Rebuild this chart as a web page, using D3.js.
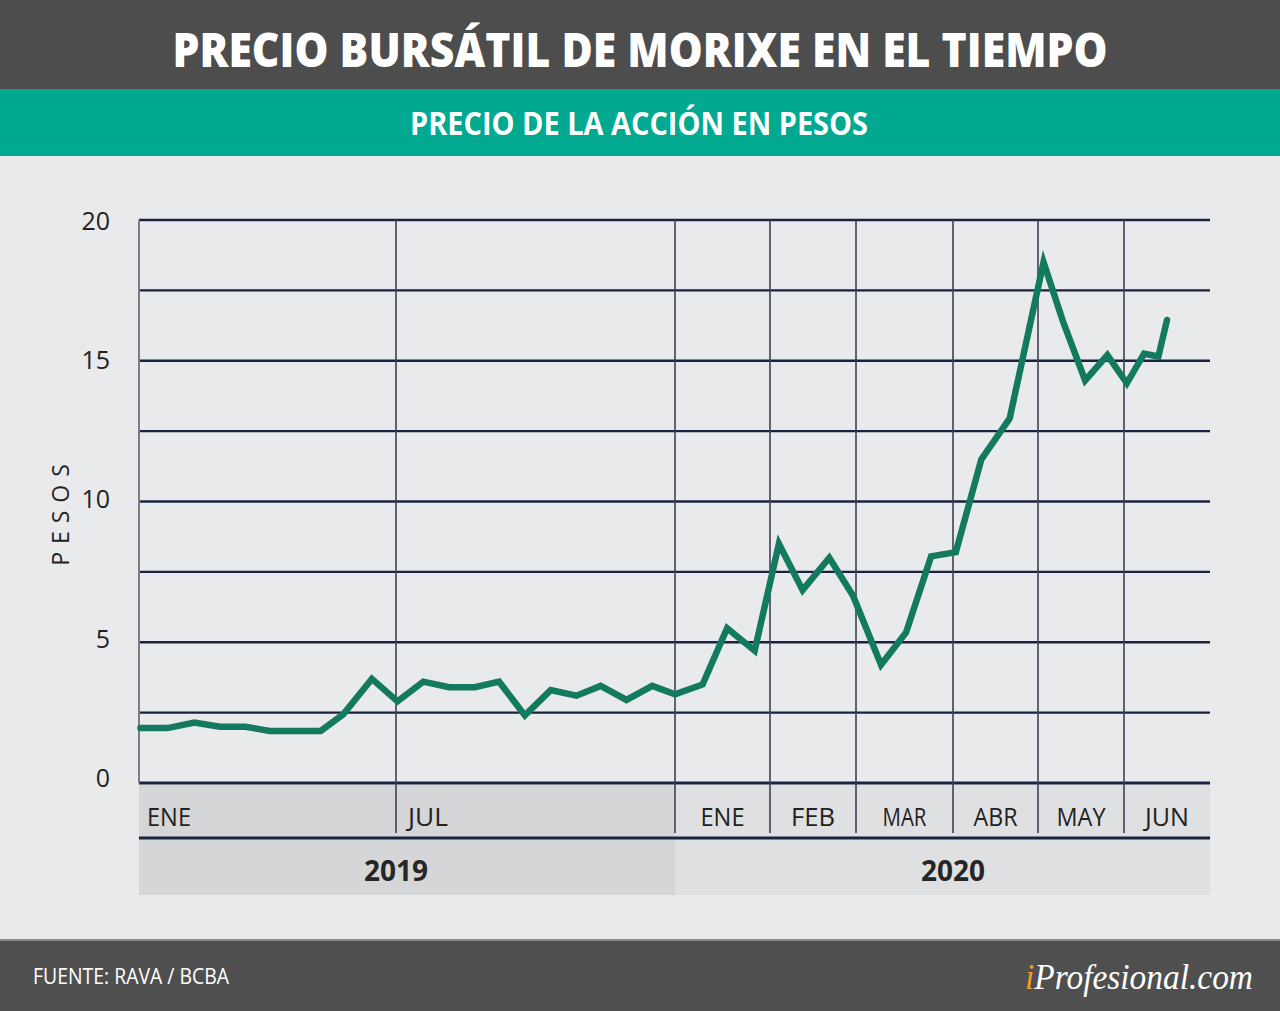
<!DOCTYPE html>
<html>
<head>
<meta charset="utf-8">
<script src="https://cdn.jsdelivr.net/npm/d3@7/dist/d3.min.js"></script>
<style>
  body { margin: 0; background: #e9eaeb; }
  svg { display: block; }
  text { font-family: "Open Sans", "DejaVu Sans", sans-serif; }
</style>
</head>
<body>
<div id="chart"></div>
<script>
// price of the share, in pesos
var dates = [
    '2019-01-02', '2019-01-21', '2019-02-09', '2019-02-27', '2019-03-17',
    '2019-04-03', '2019-04-21', '2019-05-09', '2019-05-25', '2019-06-14',
    '2019-07-02', '2019-07-19', '2019-08-05', '2019-08-22', '2019-09-07',
    '2019-09-24', '2019-10-11', '2019-10-28', '2019-11-13', '2019-11-30',
    '2019-12-17', '2020-01-01', '2020-01-10', '2020-01-18', '2020-01-27',
    '2020-02-04', '2020-02-12', '2020-02-21', '2020-02-29', '2020-03-09',
    '2020-03-17', '2020-03-25', '2020-04-02', '2020-04-11', '2020-04-21',
    '2020-05-03', '2020-05-10', '2020-05-18', '2020-05-26', '2020-06-02',
    '2020-06-08', '2020-06-13', '2020-06-16'
];
var prices = [
    1.95, 1.95, 2.15, 2.0, 2.0,
    1.85, 1.85, 1.85, 2.45, 3.7,
    2.9, 3.6, 3.4, 3.4, 3.6,
    2.4, 3.3, 3.1, 3.45, 2.95,
    3.45, 3.15, 3.5, 5.5, 4.7,
    8.5, 6.85, 8.0, 6.65, 4.2,
    5.35, 8.05, 8.2, 11.5, 12.95,
    18.5, 16.4, 14.3, 15.2, 14.2,
    15.25, 15.15, 16.45
];

// x axis cells: each label sits in the cell that starts at its date
var cellStarts = ['2019-01-01', '2019-07-01', '2020-01-01', '2020-02-01', '2020-03-01',
                  '2020-04-01', '2020-05-01', '2020-06-01', '2020-07-01'];
var monthLabels = ['ENE', 'JUL', 'ENE', 'FEB', 'MAR', 'ABR', 'MAY', 'JUN'];
var years = ['2019', '2020'];
var yearStarts = ['2019-01-01', '2020-01-01', '2020-07-01'];
var yearCentres = ['2019-07-01', '2020-04-01'];

var yTicks = [0, 5, 10, 15, 20];

(function() {
    var W = 1280, H = 1011,
        parse = d3.timeParse('%Y-%m-%d'),
        pLeft = 139, pRight = 1210, pTop = 220, pBottom = 783,
        // the picture squeezes 2019 and stretches 2020
        cellPx = [139, 396, 675, 770, 856, 953, 1038, 1124, 1210],
        navy = '#1b2140',
        green = '#137a5f';

    var data = dates.map(function(d, i) { return {date: parse(d), value: prices[i]}; });

    var svg = d3.select('#chart').append('svg')
        .attr('width', W)
        .attr('height', H);

    var x = d3.scaleTime()
        .domain(cellStarts.map(parse))
        .range(cellPx);

    var y = d3.scaleLinear()
        .domain([0, 20])
        .range([pBottom, pTop]);

    // background
    svg.append('rect').attr('width', W).attr('height', H).attr('fill', '#e9eaeb');

    // header
    svg.append('rect').attr('width', W).attr('height', 89).attr('fill', '#4d4d4d');
    svg.append('rect').attr('y', 89).attr('width', W).attr('height', 67).attr('fill', '#00a98f');
    svg.append('text')
        .attr('x', W/2).attr('y', 67)
        .attr('text-anchor', 'middle')
        .attr('fill', '#fff')
        .style('font-size', '47px').style('font-weight', 800)
        .attr('textLength', 935).attr('lengthAdjust', 'spacingAndGlyphs')
        .text('PRECIO BURSÁTIL DE MORIXE EN EL TIEMPO');
    svg.append('text')
        .attr('x', 639).attr('y', 135)
        .attr('text-anchor', 'middle')
        .attr('fill', '#fff')
        .style('font-size', '32px').style('font-weight', 700)
        .attr('textLength', 458).attr('lengthAdjust', 'spacingAndGlyphs')
        .text('PRECIO DE LA ACCIÓN EN PESOS');

    // axis bands
    var bandTop = pBottom + 2, bandBottom = 895;
    var yearBands = svg.append('g');
    years.forEach(function(yr, i) {
        var x0 = x(parse(yearStarts[i])), x1 = x(parse(yearStarts[i+1]));
        yearBands.append('rect')
            .attr('x', x0).attr('y', bandTop)
            .attr('width', x1 - x0).attr('height', bandBottom - bandTop)
            .attr('fill', i === 0 ? '#d5d6d8' : '#dfe0e2');
        yearBands.append('text')
            .attr('x', x(parse(yearCentres[i]))).attr('y', 881)
            .attr('text-anchor', 'middle')
            .attr('fill', '#262626')
            .style('font-size', '28px').style('font-weight', 700)
            .text(yr);
    });

    // horizontal grid
    svg.append('g').selectAll('line')
        .data(d3.range(0, 20.01, 2.5))
        .enter().append('line')
        .attr('x1', pLeft).attr('x2', pRight)
        .attr('y1', function(d) { return y(d); })
        .attr('y2', function(d) { return y(d); })
        .attr('stroke', navy)
        .attr('stroke-width', function(d) { return d === 0 ? 3 : 2.4; });

    // left edge
    svg.append('line')
        .attr('x1', pLeft).attr('x2', pLeft)
        .attr('y1', pTop).attr('y2', pBottom)
        .attr('stroke', '#7a7c86').attr('stroke-width', 2);

    // vertical grid, down through the month row
    svg.append('g').selectAll('line')
        .data(cellStarts.slice(1, -1).map(parse))
        .enter().append('line')
        .attr('x1', function(d) { return x(d); })
        .attr('x2', function(d) { return x(d); })
        .attr('y1', pTop).attr('y2', 833)
        .attr('stroke', '#3c3f58').attr('stroke-width', 1.6);

    // separator between months and years
    svg.append('line')
        .attr('x1', pLeft).attr('x2', pRight)
        .attr('y1', 838).attr('y2', 838)
        .attr('stroke', navy).attr('stroke-width', 3);

    // month labels: 2019 left aligned, 2020 centred in cell
    svg.append('g').selectAll('text')
        .data(monthLabels)
        .enter().append('text')
        .attr('x', function(d, i) {
            var x0 = x(parse(cellStarts[i])), x1 = x(parse(cellStarts[i+1]));
            return i < 2 ? x0 + (i === 0 ? 8 : 12) : (x0 + x1)/2;
        })
        .attr('y', 826)
        .attr('text-anchor', function(d, i) { return i < 2 ? 'start' : 'middle'; })
        .attr('fill', '#222')
        .style('font-size', '25px')
        .attr('textLength', function(d) { return d === 'MAY' ? 49 : (d === 'JUL' ? 40 : 44); })
        .attr('lengthAdjust', 'spacingAndGlyphs')
        .text(function(d) { return d; });

    // y tick labels (the picture drifts them a little off the lines)
    svg.append('g').selectAll('text')
        .data(yTicks)
        .enter().append('text')
        .attr('x', 110)
        .attr('y', function(d) { return y(d) - 5 + d*0.3; })
        .attr('dy', '0.35em')
        .attr('text-anchor', 'end')
        .attr('fill', '#222')
        .style('font-size', '25px')
        .text(function(d) { return d; });

    svg.append('text')
        .attr('transform', 'translate(69,511) rotate(-90)')
        .attr('text-anchor', 'middle')
        .attr('fill', '#222')
        .style('font-size', '23px')
        .style('letter-spacing', '8px')
        .text('PESOS');

    // price line
    var line = d3.line()
        .x(function(d) { return x(d.date); })
        .y(function(d) { return y(d.value); });

    svg.append('path')
        .datum(data)
        .attr('d', line)
        .attr('fill', 'none')
        .attr('stroke', green)
        .attr('stroke-width', 6.5)
        .attr('stroke-linejoin', 'miter')
        .attr('stroke-linecap', 'round');

    // footer
    svg.append('rect').attr('y', 940).attr('width', W).attr('height', H - 940).attr('fill', '#4f4f4f');
    svg.append('rect').attr('y', 939).attr('width', W).attr('height', 2).attr('fill', '#8a8a8a');
    svg.append('text')
        .attr('x', 33).attr('y', 984)
        .attr('fill', '#fff')
        .style('font-size', '21px')
        .attr('textLength', 196).attr('lengthAdjust', 'spacingAndGlyphs')
        .text('FUENTE: RAVA / BCBA');

    var logo = svg.append('text')
        .attr('x', 1253).attr('y', 989)
        .attr('text-anchor', 'end')
        .attr('fill', '#fff')
        .style('font-family', '"Liberation Serif", "DejaVu Serif", serif')
        .style('font-style', 'italic')
        .style('font-size', '36px')
        .attr('textLength', 228).attr('lengthAdjust', 'spacingAndGlyphs');
    logo.append('tspan').attr('fill', '#f39a1f').text('i');
    logo.append('tspan').text('Profesional.com');
})();
</script>
</body>
</html>
